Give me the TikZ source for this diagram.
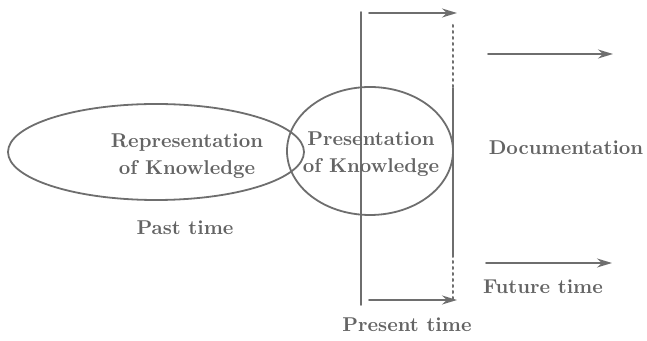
\documentclass[tikz,border=0pt]{standalone}
\usetikzlibrary{arrows.meta}
\definecolor{linegray}{RGB}{110,110,110}
\definecolor{textgray}{RGB}{100,100,100}
\begin{document}
\begin{tikzpicture}[x=0.5pt, y=-0.5pt, font=\bfseries\fontsize{10}{13.5}\selectfont, line join=round, line cap=round,
	>={Stealth[length=7.5pt,width=4.5pt]}, line width=0.9pt, draw=linegray, text=textgray,
	lbl/.style={align=center, text=textgray}]
	\useasboundingbox (0,0) rectangle (647,341);
	%%%%%%%%%%%%%%%%%%%%%%%%%%%%%%%%%
	\coordinate (P) at (156,152);
	\coordinate (Q) at (370,151);
	\coordinate (L1) at (361,12);
	\coordinate (L2) at (361,305);
	\coordinate (R1) at (453,25);
	\coordinate (R2) at (453,88);
	\coordinate (R3) at (453,255);
	\coordinate (R4) at (453,300);
	\coordinate (T1) at (369,13);
	\coordinate (T2) at (457,13);
	\coordinate (B1) at (369,300);
	\coordinate (B2) at (457,300);
	\coordinate (D1) at (488,54);
	\coordinate (D2) at (613,54);
	\coordinate (F1) at (486,263);
	\coordinate (F2) at (612,263);
	%%%%%%%%%%%%%%%%%%%%%%%%%%%%%%%%%
	\draw (P) ellipse [x radius=148, y radius=48];
	\draw (Q) ellipse [x radius=83, y radius=64];
	\draw (L1) -- (L2);
	\draw (R2) -- (R3);
	\begin{scope}[dotted, line width=1pt]
		\draw (R1) -- (R2);
		\draw (R3) -- (R4);
	\end{scope}
	\draw[->] (T1) -- (T2);
	\draw[->] (B1) -- (B2);
	\draw[->] (D1) -- (D2);
	\draw[->] (F1) -- (F2);
	%%%%%%%%%%%%%%%%%%%%%%%%%%%%%%%%%
	\node[lbl] (rep) at (187,156) {Representation\\of Knowledge};
	\node[lbl] (pres) at (371,154) {Presentation\\of Knowledge};
	\node[lbl] (past) at (185,228) {Past time};
	\node[lbl] (now) at (407,325) {Present time};
	\node[lbl] (doc) at (566,148) {Documentation};
	\node[lbl] (fut) at (543,287) {Future time};
	%%%%%%%%%%%%%%%%%%%%%%%%%%%%%%%%%
\end{tikzpicture}
\end{document}
